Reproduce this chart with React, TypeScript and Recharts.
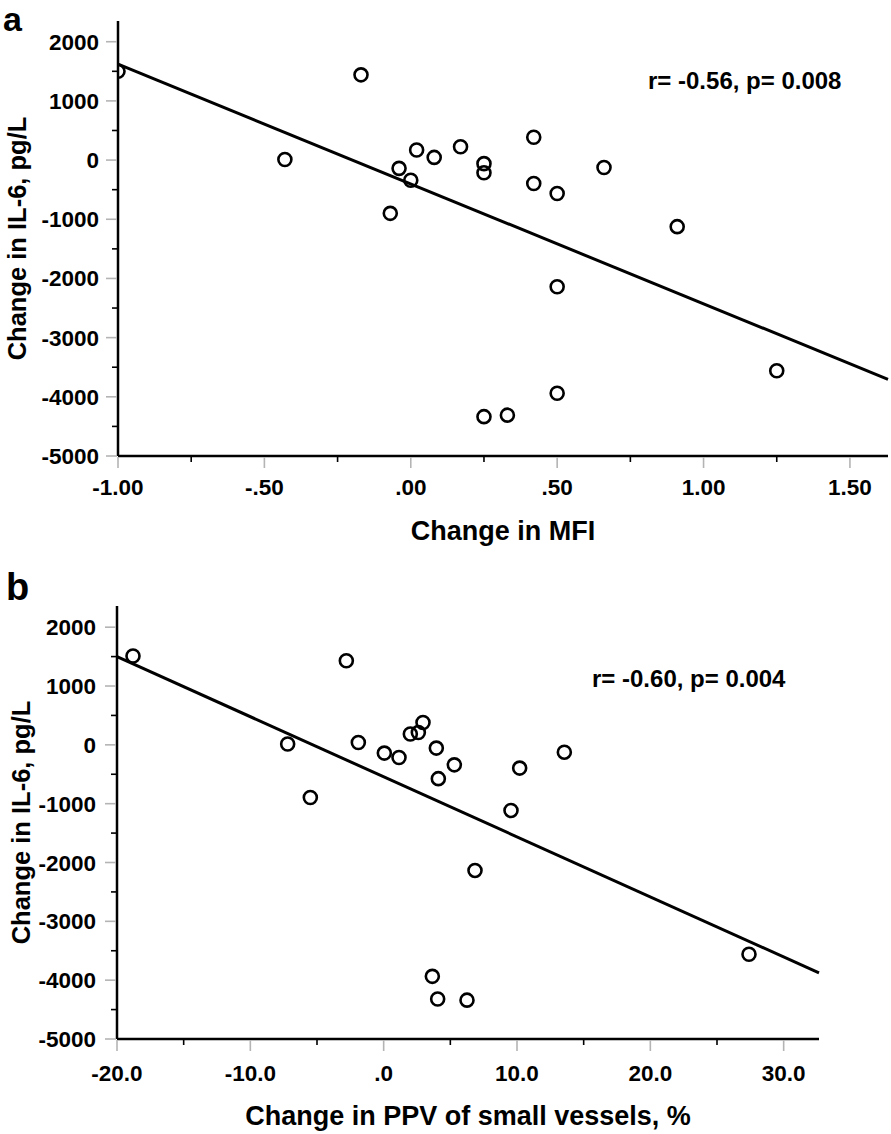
import { ScatterChart, Scatter, XAxis, YAxis, ReferenceLine } from "recharts";

// panel a: change in MFI vs change in IL-6
const mfiChange = [-1.0, -0.17, -0.43, 0.02, 0.08, -0.04, 0.0, -0.07, 0.17, 0.25, 0.25, 0.42, 0.42, 0.5, 0.66, 0.91, 0.5, 0.5, 0.25, 0.33, 1.25];
const il6ChangeA = [1500, 1440, 10, 170, 45, -140, -340, -900, 225, -60, -215, 385, -395, -565, -125, -1125, -2140, -3940, -4335, -4310, -3560];
const fitAX = [-1.0, 1.63];
const fitAY = [1622, -3704];
const xTicksA = [-1, -0.75, -0.5, -0.25, 0, 0.25, 0.5, 0.75, 1, 1.25, 1.5];

// panel b: change in PPV of small vessels vs change in IL-6
const ppvChange = [-18.8, -2.8, -7.2, -5.5, -1.9, 0.05, 1.15, 2.0, 2.6, 2.95, 3.95, 4.1, 5.3, 10.2, 13.55, 9.55, 6.85, 27.4, 6.25, 4.05, 3.65];
const il6ChangeB = [1510, 1430, 15, -895, 40, -140, -215, 185, 210, 380, -55, -575, -340, -395, -125, -1115, -2135, -3560, -4340, -4320, -3935];
const fitBX = [-20, 32.65];
const fitBY = [1499, -3876];
const xTicksB = [-20, -15, -10, -5, 0, 5, 10, 15, 20, 25, 30];

const yTicks = [-5000, -4500, -4000, -3500, -3000, -2500, -2000, -1500, -1000, -500, 0, 500, 1000, 1500, 2000];

const FONT = '"Liberation Sans", Arial, sans-serif';
const GRAY = "#b4b4b4";
const TICK_FS = 22.5;

const isMajor = (v: number, step: number) => Math.abs(v / step - Math.round(v / step)) < 1e-6;

const makeXTick = (step: number, digits: number, labelDy: number) => (props: any) => {
  const { x, y, payload } = props;
  const v = payload.value as number;
  const major = isMajor(v, step);
  const txt = v.toFixed(digits).replace(/^(-?)0\./, "$1.");
  return (
    <g>
      <line x1={x} x2={x} y1={y + 1} y2={y + (major ? 12 : 6)} stroke={major ? GRAY : "#000"} strokeWidth={1.6} />
      {major && (
        <text x={x} y={y + labelDy} textAnchor="middle" fontFamily={FONT} fontWeight={700} fontSize={TICK_FS} fill="#000">
          {txt}
        </text>
      )}
    </g>
  );
};

const makeYTick = (gap: number) => (props: any) => {
  const { x, y, payload } = props;
  const v = payload.value as number;
  const major = isMajor(v, 1000);
  return (
    <g>
      <line x1={x - (major ? 12 : 6)} x2={x - 1} y1={y} y2={y} stroke={major ? GRAY : "#000"} strokeWidth={1.6} />
      {major && (
        <text x={x - gap} y={y + 8} textAnchor="end" fontFamily={FONT} fontWeight={700} fontSize={TICK_FS} fill="#000">
          {v}
        </text>
      )}
    </g>
  );
};

const ring = (p: any) => <circle cx={p.cx} cy={p.cy} r={6.5} fill="none" stroke="#000" strokeWidth={2.6} />;

type PanelProps = {
  xs: number[]; ys: number[]; fitX: number[]; fitY: number[];
  xDomain: [number, number]; yMax: number; xTicks: number[]; xStep: number; digits: number;
  height: number; margin: { top: number; right: number; bottom: number; left: number };
  yWidth: number; xHeight: number; xTitle: string; xTitleOffset: number; yTitleOffset: number;
  labelDy: number; yGap: number;
};

function Panel(p: PanelProps) {
  const data = p.xs.map((x, i) => ({ x, y: p.ys[i] }));
  return (
    <ScatterChart width={891} height={p.height} margin={p.margin}>
      <XAxis
        type="number" dataKey="x" domain={p.xDomain} ticks={p.xTicks} interval={0} allowDataOverflow
        height={p.xHeight} tickSize={0} tickMargin={0} tickLine={false}
        axisLine={{ stroke: "#000", strokeWidth: 2.5 }}
        tick={makeXTick(p.xStep, p.digits, p.labelDy)}
        label={{ value: p.xTitle, position: "insideBottom", offset: p.xTitleOffset, fontFamily: FONT, fontWeight: 700, fontSize: 27, fill: "#000" }}
      />
      <YAxis
        type="number" dataKey="y" domain={[-5000, p.yMax]} ticks={yTicks} interval={0} allowDataOverflow
        width={p.yWidth} tickSize={0} tickMargin={0} tickLine={false}
        axisLine={{ stroke: "#000", strokeWidth: 2.5 }}
        tick={makeYTick(p.yGap)}
        label={{ value: "Change in IL-6, pg/L", angle: -90, position: "insideLeft", offset: p.yTitleOffset, fontFamily: FONT, fontWeight: 700, fontSize: 25.5, fill: "#000", style: { textAnchor: "middle" } }}
      />
      <ReferenceLine
        segment={[{ x: p.fitX[0], y: p.fitY[0] }, { x: p.fitX[1], y: p.fitY[1] }]}
        stroke="#000" strokeWidth={3} ifOverflow="visible"
      />
      <Scatter data={data} shape={ring} isAnimationActive={false} />
    </ScatterChart>
  );
}

export default function App() {
  return (
    <div style={{ position: "absolute", left: 0, top: 0, width: 891, height: 1134, background: "#fff" }}>
      <div style={{ position: "absolute", left: 0, top: 0 }}>
        <Panel
          xs={mfiChange} ys={il6ChangeA} fitX={fitAX} fitY={fitAY}
          xDomain={[-1, 1.63]} yMax={2350} xTicks={xTicksA} xStep={0.5} digits={2}
          height={560} margin={{ top: 21, right: 3, bottom: 0, left: 0 }}
          yWidth={118} xHeight={104} xTitle="Change in MFI" xTitleOffset={20} yTitleOffset={17}
          labelDy={39} yGap={19}
        />
      </div>
      <div style={{ position: "absolute", left: 0, top: 560 }}>
        <Panel
          xs={ppvChange} ys={il6ChangeB} fitX={fitBX} fitY={fitBY}
          xDomain={[-20, 32.65]} yMax={2360} xTicks={xTicksB} xStep={10} digits={1}
          height={574} margin={{ top: 46, right: 72, bottom: 0, left: 0 }}
          yWidth={117} xHeight={95} xTitle="Change in PPV of small vessels, %" xTitleOffset={9} yTitleOffset={21}
          labelDy={42} yGap={21}
        />
      </div>
      <svg width={891} height={1134} style={{ position: "absolute", left: 0, top: 0, pointerEvents: "none" }}>
        <text x={3} y={31} fontFamily={FONT} fontWeight={700} fontSize={34} fill="#000">a</text>
        <text x={6} y={600} fontFamily={FONT} fontWeight={700} fontSize={38} fill="#000">b</text>
        <text x={648} y={89} fontFamily={FONT} fontWeight={700} fontSize={24} fill="#000">r= -0.56, p= 0.008</text>
        <text x={592} y={687} fontFamily={FONT} fontWeight={700} fontSize={24} fill="#000">r= -0.60, p= 0.004</text>
      </svg>
    </div>
  );
}
